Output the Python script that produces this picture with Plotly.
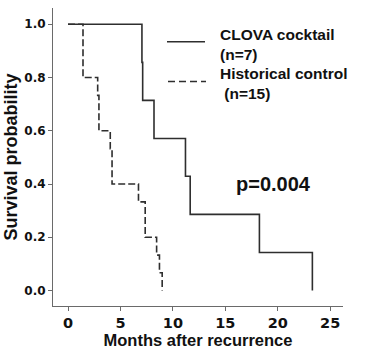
import plotly.graph_objects as go

# Kaplan-Meier step data (months, survival probability)
clova_months = [0, 7.05, 7.12, 8.2, 11.2, 11.65, 18.25, 23.3]
clova_surv = [1.0, 0.857, 0.714, 0.571, 0.429, 0.286, 0.143, 0.0]

control_months = [0, 1.43, 2.83, 2.95, 4.03, 4.2, 6.72, 7.36, 8.45, 8.72, 8.98]
control_surv = [1.0, 0.8, 0.733, 0.6, 0.533, 0.4, 0.333, 0.2, 0.133, 0.067, 0.0]

x_ticks = [0, 5, 10, 15, 20, 25]
y_ticks = [0.0, 0.2, 0.4, 0.6, 0.8, 1.0]
y_tick_labels = ["0.0", "0.2", "0.4", "0.6", "0.8", "1.0"]

legend_names = ["CLOVA cocktail<br>(n=7)", "Historical control<br> (n=15)"]
p_text = "p=0.004"

LINE = "#2e2e2e"
AXIS = "#6a6a6a"
TXT = "#111111"

fig = go.Figure()
fig.add_trace(go.Scatter(x=clova_months, y=clova_surv, mode="lines",
                         line=dict(shape="hv", color=LINE, width=1.6),
                         showlegend=False, hoverinfo="skip"))
fig.add_trace(go.Scatter(x=control_months, y=control_surv, mode="lines",
                         line=dict(shape="hv", color=LINE, width=1.6, dash="7px,3px"),
                         showlegend=False, hoverinfo="skip"))

fig.update_layout(
    width=366, height=360,
    margin=dict(l=53, r=23, t=8, b=54, autoexpand=False),
    paper_bgcolor="white", plot_bgcolor="white",
    xaxis=dict(range=[-1.43, 26.22], tickvals=x_ticks, ticktext=[str(t) for t in x_ticks],
               showgrid=False, zeroline=False, automargin=False,
               showline=True, linecolor=AXIS, linewidth=1,
               ticks="outside", ticklen=4, tickcolor=AXIS, tickwidth=1,
               tickfont=dict(family="DejaVu Sans", size=14.5, color=TXT, weight="bold"),
               title=dict(text="Months after recurrence",
                          font=dict(family="Liberation Sans", size=16.5, color=TXT, weight="bold"),
                          standoff=4)),
    yaxis=dict(range=[-0.058, 1.061], tickvals=y_ticks, ticktext=y_tick_labels,
               showgrid=False, zeroline=False, automargin=False,
               showline=True, linecolor=AXIS, linewidth=1,
               ticks="outside", ticklen=4, tickcolor=AXIS, tickwidth=1,
               tickfont=dict(family="DejaVu Sans", size=12, color=TXT, weight="bold"),
               title=dict(text="Survival probability",
                          font=dict(family="Liberation Sans", size=18, color=TXT, weight="bold"),
                          standoff=2)),
)

# legend drawn as samples + text in paper coordinates
W, H = 366, 360
L, R, T, B = 53, 23, 8, 54
pw, ph = W - L - R, H - T - B
def px(x): return (x - L) / pw
def py(y): return 1 - (y - T) / ph

fig.add_shape(type="line", xref="paper", yref="paper", x0=px(167), x1=px(205), y0=py(41.7), y1=py(41.7),
              line=dict(color=LINE, width=1.6))
fig.add_shape(type="line", xref="paper", yref="paper", x0=px(168), x1=px(206), y0=py(81.5), y1=py(81.5),
              line=dict(color=LINE, width=1.6, dash="7px,4px"))

legend_pos = [(218, 44), (218, 83)]
for name, (lx, ly) in zip(legend_names, legend_pos):
    fig.add_annotation(text=name, xref="paper", yref="paper", x=px(lx), y=py(ly),
                       xanchor="left", yanchor="middle", align="left", showarrow=False,
                       font=dict(family="Liberation Sans", size=15.5, color=TXT, weight="bold"))

fig.add_annotation(text=p_text, xref="paper", yref="paper", x=px(273), y=py(184),
                   xanchor="center", yanchor="middle", showarrow=False,
                   font=dict(family="Liberation Sans", size=20, color=TXT, weight="bold"))

fig.write_html("out.html", config={"displayModeBar": False},
               post_script="document.body.style.margin='0';")
